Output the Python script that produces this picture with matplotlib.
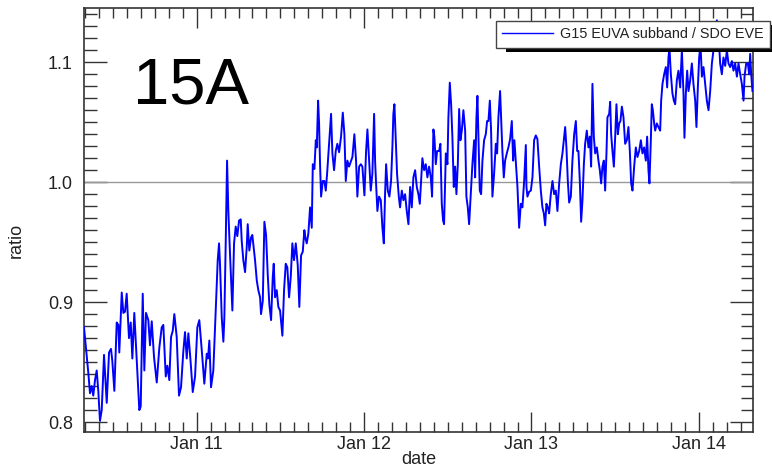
import matplotlib
matplotlib.use("Agg")
import matplotlib.pyplot as plt
from matplotlib.ticker import MultipleLocator, FixedLocator
from matplotlib.patches import Rectangle
from matplotlib.transforms import IdentityTransform

# time: hours since 2010-01-10 00:00
hours = [
    7.85, 8.47, 8.71, 8.95, 9.18, 9.43, 9.67, 9.90, 10.14, 10.39,
    10.72, 11.11, 11.44, 11.72, 11.91, 12.20, 12.54, 12.77, 12.91, 13.26,
    13.49, 13.73, 13.97, 14.30, 14.55, 14.78, 15.06, 15.41, 15.78, 15.98,
    16.27, 16.50, 16.74, 17.07, 17.31, 17.56, 17.89, 18.28, 18.65, 18.99,
    19.22, 19.57, 19.80, 20.08, 20.33, 20.57, 20.80, 21.14, 21.47, 21.76,
    22.09, 22.33, 22.58, 22.81, 23.15, 23.44, 23.77, 24.10, 24.38, 24.73,
    25.10, 25.45, 25.63, 25.82, 26.06, 26.39, 26.74, 27.02, 27.21, 27.35,
    27.60, 27.83, 27.97, 28.17, 28.36, 28.54, 28.79, 29.12, 29.36, 29.60,
    29.83, 30.08, 30.32, 30.46, 30.69, 30.94, 31.18, 31.32, 31.55, 31.80,
    31.98, 32.18, 32.37, 32.62, 32.84, 33.09, 33.23, 33.48, 33.71, 33.95,
    34.19, 34.42, 34.67, 34.91, 35.05, 35.24, 35.48, 35.71, 35.96, 36.29,
    36.53, 36.77, 37.00, 37.25, 37.49, 37.72, 37.96, 38.21, 38.49, 38.72,
    38.97, 39.21, 39.44, 39.61, 39.78, 40.01, 40.26, 40.50, 40.65, 40.88,
    41.08, 41.22, 41.41, 41.55, 41.69, 41.84, 42.08, 42.31, 42.51, 42.70,
    42.98, 43.27, 43.46, 43.70, 43.94, 44.17, 44.42, 44.70, 44.95, 45.18,
    45.38, 45.61, 45.85, 46.14, 46.33, 46.61, 46.85, 47.04, 47.29, 47.53,
    47.76, 48.05, 48.29, 48.48, 48.72, 48.96, 49.19, 49.44, 49.58, 49.72,
    49.91, 50.15, 50.40, 50.63, 50.83, 51.01, 51.16, 51.40, 51.63, 51.87,
    52.06, 52.20, 52.35, 52.55, 52.73, 52.98, 53.16, 53.41, 53.64, 53.88,
    54.12, 54.36, 54.60, 54.84, 55.07, 55.32,
    55.56, 55.79, 55.99, 56.18, 56.36, 56.61, 56.85, 57.08, 57.32, 57.57,
    57.75, 57.94, 58.08, 58.28, 58.47, 58.76, 58.94, 59.14, 59.33, 59.47,
    59.72, 59.95, 60.09, 60.29, 60.48, 60.66, 60.86, 61.05, 61.24, 61.44,
    61.63, 61.81, 62.01, 62.24, 62.49, 62.67, 62.87, 63.06, 63.30, 63.53,
    63.78, 63.92, 64.11, 64.25, 64.39, 64.59, 64.78, 64.97, 65.21, 65.45,
    65.64, 65.83, 66.03, 66.21, 66.40, 66.64, 66.89, 67.07, 67.26, 67.50,
    67.65, 67.83, 68.03, 68.22, 68.46, 68.69, 68.94, 69.18, 69.37, 69.55,
    69.80, 69.99, 70.23, 70.47, 70.70, 70.95, 71.19,
    71.28, 71.42, 71.66, 71.91, 72.14, 72.38, 72.62, 72.85, 73.10, 73.34,
    73.57, 73.77, 73.96, 74.14, 74.34, 74.53, 74.77, 75.01, 75.25, 75.49,
    75.72, 75.97, 76.21, 76.44, 76.64, 76.83, 77.01, 77.21, 77.40, 77.64,
    77.87, 78.12, 78.36, 78.55, 78.73, 78.93, 79.12, 79.31, 79.51, 79.69,
    79.93, 80.17, 80.37, 80.55, 80.74, 80.94, 81.13, 81.37, 81.60, 81.80,
    81.99, 82.17, 82.37, 82.56, 82.75, 82.89, 83.14, 83.28, 83.42, 83.61,
    83.81, 84.00, 84.18, 84.38, 84.57, 84.75, 84.96, 85.19, 85.43, 85.67,
    85.90, 86.10, 86.29, 86.48, 86.72, 86.96, 87.19, 87.44,
    87.68, 87.91, 88.15, 88.39, 88.58, 88.77, 88.91, 89.11, 89.25, 89.40,
    89.59, 89.73, 89.97, 90.20, 90.45, 90.59, 90.78, 91.02, 91.26, 91.45,
    91.64, 91.78, 91.98, 92.21, 92.41, 92.60, 92.84, 93.07, 93.32, 93.56,
    93.79, 93.93, 94.13, 94.32, 94.51, 94.75, 94.99, 95.22, 95.47, 95.65,
    95.85, 96.04, 96.23, 96.43, 96.66, 96.90, 97.14, 97.38, 97.62, 97.86,
    98.09, 98.33, 98.58, 98.81, 99.05, 99.29, 99.52, 99.77, 100.01, 100.24,
    100.49, 100.73, 100.96, 101.20, 101.45, 101.68, 101.92, 102.16, 102.40, 102.54,
    102.78, 103.02, 103.21, 103.35, 103.50, 103.68,
]

ratio = [
    0.879, 0.841, 0.824, 0.830, 0.822, 0.835, 0.843, 0.826, 0.801, 0.810,
    0.856, 0.816, 0.858, 0.861, 0.851, 0.826, 0.883, 0.881, 0.858, 0.908,
    0.891, 0.892, 0.907, 0.870, 0.883, 0.853, 0.891, 0.852, 0.810, 0.813,
    0.907, 0.843, 0.891, 0.885, 0.864, 0.884, 0.854, 0.833, 0.862, 0.879,
    0.881, 0.838, 0.847, 0.835, 0.871, 0.876, 0.890, 0.871, 0.822, 0.829,
    0.859, 0.875, 0.853, 0.874, 0.849, 0.825, 0.838, 0.879, 0.885, 0.860,
    0.832, 0.857, 0.853, 0.868, 0.829, 0.843, 0.893, 0.935, 0.949, 0.931,
    0.887, 0.867, 0.887, 0.951, 1.018, 0.976, 0.939, 0.893, 0.949, 0.963,
    0.955, 0.968, 0.969, 0.951, 0.935, 0.925, 0.946, 0.965, 0.943, 0.954,
    0.956, 0.945, 0.935, 0.918, 0.910, 0.904, 0.890, 0.901, 0.967, 0.956,
    0.923, 0.898, 0.885, 0.921, 0.932, 0.904, 0.910, 0.896, 0.893, 0.872,
    0.910, 0.932, 0.929, 0.904, 0.921, 0.949, 0.935, 0.949, 0.931, 0.896,
    0.939, 0.942, 0.960, 0.953, 0.949, 0.957, 0.979, 0.962, 1.015, 1.011,
    1.035, 1.029, 1.068, 1.049, 1.015, 0.988, 1.001, 1.001, 0.993, 1.007,
    1.032, 1.057, 1.024, 1.010, 1.026, 1.032, 1.025, 1.038, 1.058, 1.040,
    1.001, 1.018, 1.013, 1.018, 1.021, 1.040, 1.018, 0.988, 1.013, 1.015,
    1.013, 0.989, 1.026, 1.044, 1.018, 0.993, 1.007, 1.057, 1.018, 0.999,
    0.976, 0.988, 0.985, 0.962, 0.949, 0.990, 1.015, 0.993, 0.988, 1.001,
    1.029, 1.057, 1.065, 1.035, 1.007, 0.988, 0.979, 0.993, 0.985, 0.990,
    0.976, 0.965, 0.996, 0.979, 1.004, 1.010,
    0.996, 0.990, 0.982, 1.001, 1.020, 1.010, 1.015, 1.004, 1.013, 1.004,
    0.988, 1.044, 1.038, 1.015, 1.026, 1.026, 1.032, 0.982, 0.968, 0.965,
    1.024, 1.015, 1.054, 1.083, 1.065, 1.038, 0.996, 1.013, 0.990, 1.015,
    1.061, 1.035, 1.043, 1.060, 1.043, 0.988, 0.979, 0.965, 0.990, 1.015,
    1.035, 1.004, 1.054, 1.072, 1.038, 0.993, 0.990, 1.018, 1.035, 1.040,
    1.051, 1.051, 1.068, 1.043, 0.988, 1.007, 1.032, 1.024, 1.054, 1.076,
    1.054, 1.026, 1.004, 1.018, 1.024, 1.029, 1.036, 1.051, 1.018, 1.035,
    1.013, 0.996, 0.962, 0.982, 0.979, 1.001, 1.031,
    0.996, 0.988, 0.992, 0.993, 1.004, 1.035, 1.039, 1.036, 1.013, 0.993,
    0.979, 0.974, 0.964, 0.982, 0.979, 0.974, 0.990, 1.001, 0.990, 0.993,
    0.976, 0.999, 1.015, 1.024, 1.035, 1.046, 1.029, 1.001, 0.983, 0.988,
    1.018, 1.040, 1.051, 1.026, 1.026, 1.001, 0.967, 0.985, 1.015, 1.032,
    1.043, 1.029, 1.038, 1.013, 1.082, 1.038, 1.024, 1.029, 1.018, 1.010,
    0.999, 1.013, 1.018, 0.993, 1.024, 1.054, 1.057, 1.067, 1.040, 1.026,
    1.013, 1.038, 1.065, 1.040, 1.049, 1.051, 1.063, 1.054, 1.032, 1.035,
    1.046, 1.026, 0.999, 0.993, 1.013, 1.029, 1.021, 1.026,
    1.035, 1.024, 1.029, 1.018, 1.038, 1.010, 0.999, 1.035, 1.065, 1.060,
    1.049, 1.043, 1.049, 1.046, 1.043, 1.068, 1.082, 1.090, 1.096, 1.079,
    1.104, 1.112, 1.090, 1.074, 1.068, 1.065, 1.085, 1.093, 1.079, 1.110,
    1.074, 1.037, 1.074, 1.093, 1.076, 1.085, 1.099, 1.082, 1.068, 1.046,
    1.079, 1.104, 1.115, 1.088, 1.096, 1.082, 1.068, 1.060, 1.076, 1.099,
    1.110, 1.115, 1.135, 1.124, 1.099, 1.090, 1.104, 1.097, 1.110, 1.099,
    1.096, 1.101, 1.093, 1.099, 1.088, 1.099, 1.090, 1.082, 1.068, 1.088,
    1.099, 1.099, 1.090, 1.107, 1.090, 1.076,
]

day_ticks = [24, 48, 72, 96]
day_labels = ["Jan 11", "Jan 12", "Jan 13", "Jan 14"]
y_ticks = [0.8, 0.9, 1.0, 1.1]
y_labels = ["0.8", "0.9", "1.0", "1.1"]
series_label = "G15 EUVA subband / SDO EVE"
panel_label = "15A"

plt.rcParams['font.family'] = ['Liberation Sans', 'DejaVu Sans']

W, H = 772, 470
fig = plt.figure(figsize=(W / 100, H / 100), dpi=100)
ax = fig.add_axes([84 / W, 1 - 432 / H, (753.3 - 84) / W, (432 - 8.3) / H])

ax.plot(hours, ratio, color='#0000ff', lw=1.4, label=series_label, zorder=3)
ax.axhline(1.0, color='#999999', lw=1.0, zorder=2)

ax.set_xlim(7.85, 103.8)
ax.set_ylim(0.7917, 1.145)

ax.xaxis.set_major_locator(FixedLocator(day_ticks))
ax.set_xticklabels(day_labels)
ax.xaxis.set_minor_locator(MultipleLocator(2))
ax.set_yticks(y_ticks)
ax.set_yticklabels(y_labels)
ax.yaxis.set_minor_locator(MultipleLocator(0.01))

ax.tick_params(which='both', direction='in', top=True, right=True,
               color='#333333', labelcolor='#222222', labelsize=13)
ax.tick_params(axis='x', which='major', length=14.4, width=1, pad=3)
ax.tick_params(axis='x', which='minor', length=7.2, width=1)
ax.tick_params(axis='y', which='major', length=16.5, width=1, pad=8)
ax.tick_params(axis='y', which='minor', length=9, width=1)
for s in ax.spines.values():
    s.set_color('#333333')
    s.set_linewidth(1.2)

ax.set_xlabel('date', fontsize=13, labelpad=-1.5, color='#222222')
ax.set_ylabel('ratio', fontsize=13, color='#222222')
ax.yaxis.set_label_coords(-0.088, 0.453)

fig.text(133 / W, 1 - 103 / H, panel_label, fontsize=47, ha='left',
         va='baseline', color='black')

leg = ax.legend(loc='upper left', bbox_to_anchor=(496 / W, 1 - 20.7 / H),
                bbox_transform=fig.transFigure, fontsize=10.4, handlelength=3.5,
                handletextpad=0.5, borderpad=0.45, frameon=True,
                fancybox=False, borderaxespad=0, framealpha=1)
leg.get_frame().set_edgecolor('#444444')
leg.get_frame().set_linewidth(1.0)
for t in leg.get_texts():
    t.set_color('#222222')
for l in leg.get_lines():
    l.set_linewidth(1.0)
leg.set_zorder(5)

fig.canvas.draw()
bb = leg.get_window_extent()
shadow = Rectangle((bb.x0 + 10, bb.y0 - 4), bb.width, bb.height,
                   transform=IdentityTransform(), facecolor='black',
                   edgecolor='none', zorder=4.5, clip_on=False)
ax.add_artist(shadow)

fig.savefig('out.png', dpi=100)
